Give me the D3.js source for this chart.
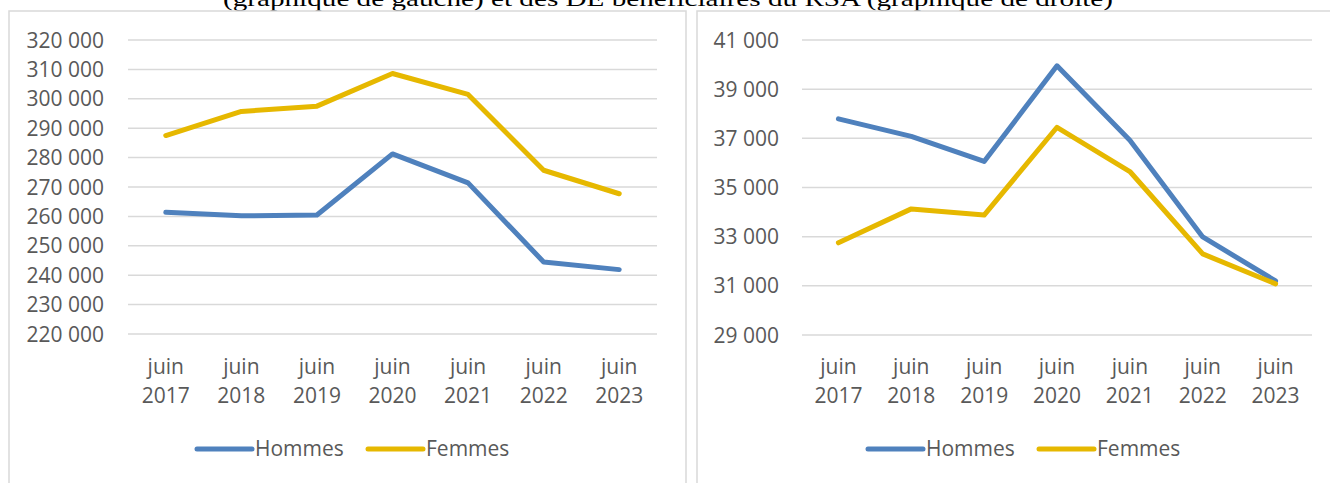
<!DOCTYPE html>
<html>
<head>
<meta charset="utf-8">
<script src="https://cdn.jsdelivr.net/npm/d3@7"></script>
<style>
  body { margin: 0; background: #fff; }
  svg { display: block; }
  .tick-label { font-family: "Open Sans", sans-serif; font-size: 21px; fill: #595959; }
  .legend-text { font-family: "Open Sans", sans-serif; font-size: 21px; fill: #595959; }
</style>
</head>
<body>
<div id="chart"></div>
<script>
// categories shared by both panels
const months = ["juin", "juin", "juin", "juin", "juin", "juin", "juin"];
const years = ["2017", "2018", "2019", "2020", "2021", "2022", "2023"];

// left panel: all DE
const leftHommes = [261400, 260200, 260500, 281250, 271400, 244500, 241900];
const leftFemmes = [287500, 295700, 297500, 308600, 301500, 275700, 267700];
const leftTicks = [220000, 230000, 240000, 250000, 260000, 270000, 280000, 290000, 300000, 310000, 320000];

// right panel: DE beneficiaires du RSA
const rightHommes = [37790, 37080, 36060, 39950, 36920, 32990, 31200];
const rightFemmes = [32750, 34130, 33880, 37450, 35650, 32300, 31080];
const rightTicks = [29000, 31000, 33000, 35000, 37000, 39000, 41000];

const seriesNames = ["Hommes", "Femmes"];
const colors = ["#4F81BD", "#E6B800"];

const titleText = "(graphique de gauche) et des DE bénéficiaires du RSA (graphique de droite)";

const W = 1330, H = 483;
const svg = d3.select("#chart").append("svg").attr("width", W).attr("height", H);

const fmt = v => d3.format(",")(v).replace(/,/g, " ");

// title sits partly hidden behind the panels
svg.append("text")
  .attr("x", 223)
  .attr("y", 6)
  .attr("textLength", 890)
  .attr("lengthAdjust", "spacingAndGlyphs")
  .style("font-family", "'Liberation Serif', serif")
  .style("font-size", "22px")
  .style("fill", "#000")
  .text(titleText);

function drawPanel(p) {
  const g = svg.append("g");

  g.append("rect")
    .attr("x", p.box[0]).attr("y", p.box[1])
    .attr("width", p.box[2]).attr("height", p.box[3])
    .attr("fill", "#fff")
    .attr("stroke", "#d9d9d9")
    .attr("stroke-width", 1.5);

  const x = d3.scaleBand().domain(years).range([p.x0, p.x1]);
  const y = d3.scaleLinear().domain([p.ticks[0], p.ticks[p.ticks.length - 1]]).range([p.yBottom, p.yTop]);

  // gridlines
  g.selectAll(".grid")
    .data(p.ticks)
    .join("line")
    .attr("x1", p.x0).attr("x2", p.x1)
    .attr("y1", d => y(d)).attr("y2", d => y(d))
    .attr("stroke", "#d9d9d9")
    .attr("stroke-width", 1.5);

  // y labels
  g.selectAll(".ylab")
    .data(p.ticks)
    .join("text")
    .attr("class", "tick-label")
    .attr("x", p.labelRight)
    .attr("y", d => y(d))
    .attr("dy", "0.36em")
    .attr("text-anchor", "end")
    .text(d => fmt(d));

  // x labels (two lines)
  years.forEach((yr, i) => {
    const cx = x(yr) + x.bandwidth() / 2;
    g.append("text").attr("class", "tick-label")
      .attr("x", cx).attr("y", 374).attr("text-anchor", "middle").text(months[i]);
    g.append("text").attr("class", "tick-label")
      .attr("x", cx).attr("y", 403).attr("text-anchor", "middle").text(yr);
  });

  const line = d3.line()
    .x((d, i) => x(years[i]) + x.bandwidth() / 2)
    .y(d => y(d));

  [p.hommes, p.femmes].forEach((vals, k) => {
    g.append("path")
      .datum(vals)
      .attr("fill", "none")
      .attr("stroke", colors[k])
      .attr("stroke-width", 5)
      .attr("stroke-linejoin", "round")
      .attr("stroke-linecap", "round")
      .attr("d", line);
  });

  // legend
  seriesNames.forEach((name, k) => {
    const lx = p.legendX[k];
    g.append("line")
      .attr("x1", lx).attr("x2", lx + 55)
      .attr("y1", 449).attr("y2", 449)
      .attr("stroke", colors[k])
      .attr("stroke-width", 5)
      .attr("stroke-linecap", "round");
    g.append("text")
      .attr("class", "legend-text")
      .attr("x", lx + 58)
      .attr("y", 456)
      .text(name);
  });
}

drawPanel({
  box: [9, 11, 677, 500],
  x0: 128, x1: 657, yTop: 40, yBottom: 334,
  labelRight: 104,
  ticks: leftTicks,
  hommes: leftHommes, femmes: leftFemmes,
  legendX: [197, 368]
});

drawPanel({
  box: [697, 11, 660, 500],
  x0: 802, x1: 1312, yTop: 40, yBottom: 335,
  labelRight: 779,
  ticks: rightTicks,
  hommes: rightHommes, femmes: rightFemmes,
  legendX: [868, 1039]
});
</script>
</body>
</html>
